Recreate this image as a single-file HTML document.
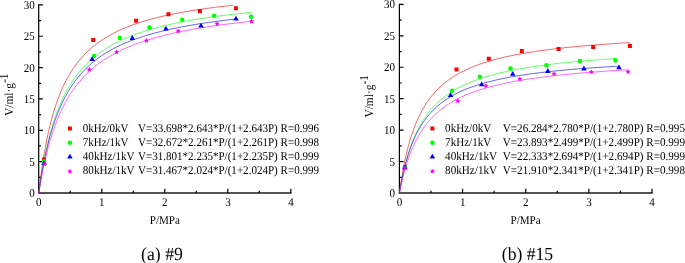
<!DOCTYPE html>
<html><head><meta charset="utf-8"><title>Adsorption isotherms</title>
<style>
html,body{margin:0;padding:0;background:#fff;}
svg{display:block;will-change:transform;}
.t,.t text{font-family:"Liberation Serif","Times New Roman",serif;font-size:11.9px;fill:#000;text-rendering:geometricPrecision;}
.c{font-family:"Liberation Serif","Times New Roman",serif;font-size:18.4px;fill:#000;text-rendering:geometricPrecision;}
</style></head><body>
<svg width="685" height="263" viewBox="0 0 685 263">
<rect width="685" height="263" fill="#fff"/>
<g transform="matrix(1 0.00001 0 1 0 0)">
<g stroke="#000" stroke-width="1.2" fill="none">
<path d="M38.70 4.30V193.60"/>
<path d="M38.10 193.00H291.42" stroke-width="1.3" stroke="#1c1c1c"/>
<path d="M38.70 177.32h2.3M38.70 161.65h4.2M38.70 145.97h2.3M38.70 130.30h4.2M38.70 114.62h2.3M38.70 98.95h4.2M38.70 83.28h2.3M38.70 67.60h4.2M38.70 51.93h2.3M38.70 36.25h4.2M38.70 20.58h2.3M38.70 4.90h4.2M70.22 193.00v-2.3M101.73 193.00v-4.2M133.25 193.00v-2.3M164.76 193.00v-4.2M196.27 193.00v-2.3M227.79 193.00v-4.2M259.31 193.00v-2.3M290.82 193.00v-4.2"/>
</g>
<g class="t">
<text x="29.32" y="197.00" textLength="5.52" lengthAdjust="spacingAndGlyphs">0</text>
<text x="29.32" y="165.65" textLength="5.52" lengthAdjust="spacingAndGlyphs">5</text>
<text x="23.80" y="134.30" textLength="11.04" lengthAdjust="spacingAndGlyphs">10</text>
<text x="23.80" y="102.95" textLength="11.04" lengthAdjust="spacingAndGlyphs">15</text>
<text x="23.80" y="71.60" textLength="11.04" lengthAdjust="spacingAndGlyphs">20</text>
<text x="23.80" y="40.25" textLength="11.04" lengthAdjust="spacingAndGlyphs">25</text>
<text x="23.80" y="8.50" textLength="11.04" lengthAdjust="spacingAndGlyphs">30</text>
<text x="36.04" y="205.90" textLength="5.52" lengthAdjust="spacingAndGlyphs">0</text>
<text x="99.07" y="205.90" textLength="5.52" lengthAdjust="spacingAndGlyphs">1</text>
<text x="162.10" y="205.90" textLength="5.52" lengthAdjust="spacingAndGlyphs">2</text>
<text x="225.13" y="205.90" textLength="5.52" lengthAdjust="spacingAndGlyphs">3</text>
<text x="288.16" y="205.90" textLength="5.52" lengthAdjust="spacingAndGlyphs">4</text>
<text x="149.75" y="224.1" textLength="30.1" lengthAdjust="spacingAndGlyphs">P/MPa</text>
<text transform="translate(12.90 116.00) rotate(-90)" style="font-size:12.2px" textLength="33.1" lengthAdjust="spacingAndGlyphs">V/ml·g</text>
<text transform="translate(7.90 83.00) rotate(-90)" style="font-size:12.2px" textLength="9.6" lengthAdjust="spacingAndGlyphs">-1</text>
</g>
<path d="M38.70 193.45 L39.51 186.53 L40.32 180.04 L41.12 173.95 L41.93 168.23 L42.74 162.84 L43.55 157.75 L44.36 152.94 L45.16 148.39 L45.97 144.07 L46.78 139.98 L47.59 136.08 L48.40 132.37 L49.20 128.84 L50.01 125.47 L50.82 122.25 L51.63 119.17 L52.44 116.23 L53.25 113.40 L54.05 110.70 L54.86 108.10 L55.67 105.61 L56.48 103.21 L57.29 100.91 L58.09 98.69 L58.90 96.55 L59.71 94.49 L60.52 92.50 L61.33 90.58 L62.13 88.73 L62.94 86.94 L63.75 85.21 L64.56 83.53 L65.37 81.91 L66.17 80.34 L66.98 78.82 L67.79 77.34 L68.60 75.91 L69.41 74.52 L70.22 73.18 L72.28 69.91 L74.34 66.86 L76.40 64.02 L78.47 61.37 L80.53 58.88 L82.59 56.54 L84.66 54.35 L86.72 52.27 L88.78 50.32 L90.85 48.47 L92.91 46.71 L94.97 45.05 L97.04 43.47 L99.10 41.97 L101.16 40.54 L103.23 39.18 L105.29 37.88 L107.35 36.64 L109.42 35.45 L111.48 34.31 L113.54 33.22 L115.61 32.17 L117.67 31.17 L119.73 30.21 L121.80 29.28 L123.86 28.39 L125.92 27.53 L127.99 26.70 L130.05 25.90 L132.11 25.13 L134.18 24.39 L136.24 23.67 L138.30 22.98 L140.36 22.31 L142.43 21.66 L144.49 21.03 L146.55 20.42 L148.62 19.83 L150.68 19.26 L152.74 18.70 L154.81 18.17 L156.87 17.64 L158.93 17.13 L161.00 16.64 L163.06 16.16 L165.12 15.69 L167.19 15.24 L169.25 14.80 L171.31 14.37 L173.38 13.95 L175.44 13.54 L177.50 13.14 L179.57 12.75 L181.63 12.38 L183.69 12.01 L185.76 11.65 L187.82 11.29 L189.88 10.95 L191.95 10.62 L194.01 10.29 L196.07 9.97 L198.14 9.66 L200.20 9.35 L202.26 9.05 L204.33 8.76 L206.39 8.47 L208.45 8.19 L210.51 7.92 L212.58 7.65 L214.64 7.38 L216.70 7.13 L218.77 6.87 L220.83 6.63 L222.89 6.38 L224.96 6.15 L227.02 5.91 L229.08 5.68 L231.15 5.46 L233.21 5.24" fill="none" stroke="#ff0000" stroke-width="0.62"/>
<path d="M38.70 193.45 L39.51 187.68 L40.32 182.22 L41.12 177.06 L41.93 172.17 L42.74 167.52 L43.55 163.10 L44.36 158.89 L45.16 154.89 L45.97 151.06 L46.78 147.41 L47.59 143.92 L48.40 140.58 L49.20 137.38 L50.01 134.31 L50.82 131.37 L51.63 128.54 L52.44 125.83 L53.25 123.21 L54.05 120.70 L54.86 118.27 L55.67 115.94 L56.48 113.68 L57.29 111.51 L58.09 109.40 L58.90 107.37 L59.71 105.41 L60.52 103.51 L61.33 101.67 L62.13 99.89 L62.94 98.17 L63.75 96.49 L64.56 94.87 L65.37 93.30 L66.17 91.77 L66.98 90.28 L67.79 88.84 L68.60 87.44 L69.41 86.08 L70.22 84.75 L72.50 81.18 L74.79 77.87 L77.08 74.78 L79.37 71.90 L81.66 69.21 L83.95 66.69 L86.24 64.31 L88.53 62.08 L90.82 59.98 L93.11 57.99 L95.40 56.11 L97.69 54.34 L99.98 52.65 L102.27 51.04 L104.56 49.52 L106.85 48.07 L109.14 46.68 L111.43 45.36 L113.72 44.09 L116.01 42.89 L118.30 41.73 L120.59 40.62 L122.88 39.56 L125.17 38.54 L127.46 37.56 L129.75 36.61 L132.04 35.71 L134.33 34.83 L136.62 33.99 L138.91 33.18 L141.20 32.40 L143.49 31.64 L145.78 30.91 L148.07 30.21 L150.36 29.52 L152.65 28.86 L154.94 28.22 L157.23 27.60 L159.52 27.00 L161.81 26.42 L164.10 25.85 L166.39 25.31 L168.68 24.77 L170.97 24.26 L173.26 23.75 L175.55 23.26 L177.84 22.79 L180.13 22.33 L182.42 21.88 L184.71 21.44 L187.00 21.01 L189.29 20.60 L191.58 20.19 L193.87 19.80 L196.16 19.41 L198.45 19.03 L200.73 18.67 L203.02 18.31 L205.31 17.96 L207.60 17.62 L209.89 17.28 L212.18 16.96 L214.47 16.64 L216.76 16.33 L219.05 16.02 L221.34 15.72 L223.63 15.43 L225.92 15.15 L228.21 14.87 L230.50 14.59 L232.79 14.32 L235.08 14.06 L237.37 13.80 L239.66 13.55 L241.95 13.30 L244.24 13.06 L246.53 12.82 L248.82 12.59 L251.11 12.36" fill="none" stroke="#00ff00" stroke-width="0.62"/>
<path d="M38.70 193.45 L39.51 187.90 L40.32 182.64 L41.12 177.67 L41.93 172.95 L42.74 168.46 L43.55 164.20 L44.36 160.14 L45.16 156.27 L45.97 152.57 L46.78 149.04 L47.59 145.66 L48.40 142.43 L49.20 139.33 L50.01 136.36 L50.82 133.51 L51.63 130.77 L52.44 128.14 L53.25 125.60 L54.05 123.16 L54.86 120.81 L55.67 118.54 L56.48 116.36 L57.29 114.24 L58.09 112.20 L58.90 110.23 L59.71 108.32 L60.52 106.48 L61.33 104.69 L62.13 102.96 L62.94 101.28 L63.75 99.65 L64.56 98.07 L65.37 96.54 L66.17 95.06 L66.98 93.61 L67.79 92.21 L68.60 90.84 L69.41 89.51 L70.22 88.22 L72.31 85.03 L74.41 82.04 L76.51 79.24 L78.61 76.62 L80.71 74.15 L82.81 71.83 L84.90 69.63 L87.00 67.56 L89.10 65.60 L91.20 63.74 L93.30 61.97 L95.40 60.29 L97.49 58.70 L99.59 57.17 L101.69 55.72 L103.79 54.33 L105.89 53.01 L107.99 51.74 L110.08 50.52 L112.18 49.36 L114.28 48.24 L116.38 47.17 L118.48 46.13 L120.58 45.14 L122.67 44.19 L124.77 43.27 L126.87 42.38 L128.97 41.52 L131.07 40.70 L133.17 39.90 L135.26 39.13 L137.36 38.38 L139.46 37.66 L141.56 36.96 L143.66 36.29 L145.76 35.63 L147.85 35.00 L149.95 34.38 L152.05 33.78 L154.15 33.20 L156.25 32.64 L158.35 32.09 L160.44 31.56 L162.54 31.04 L164.64 30.54 L166.74 30.05 L168.84 29.57 L170.94 29.11 L173.03 28.65 L175.13 28.21 L177.23 27.78 L179.33 27.36 L181.43 26.96 L183.53 26.56 L185.62 26.17 L187.72 25.79 L189.82 25.42 L191.92 25.05 L194.02 24.70 L196.12 24.35 L198.21 24.01 L200.31 23.68 L202.41 23.36 L204.51 23.04 L206.61 22.73 L208.71 22.43 L210.80 22.13 L212.90 21.84 L215.00 21.55 L217.10 21.28 L219.20 21.00 L221.30 20.73 L223.39 20.47 L225.49 20.21 L227.59 19.96 L229.69 19.71 L231.79 19.47 L233.89 19.23 L235.98 19.00" fill="none" stroke="#0000ff" stroke-width="0.62"/>
<path d="M38.70 193.45 L39.51 188.46 L40.32 183.72 L41.12 179.20 L41.93 174.90 L42.74 170.79 L43.55 166.87 L44.36 163.12 L45.16 159.53 L45.97 156.10 L46.78 152.80 L47.59 149.64 L48.40 146.60 L49.20 143.68 L50.01 140.87 L50.82 138.17 L51.63 135.57 L52.44 133.06 L53.25 130.64 L54.05 128.30 L54.86 126.04 L55.67 123.86 L56.48 121.75 L57.29 119.71 L58.09 117.73 L58.90 115.82 L59.71 113.97 L60.52 112.17 L61.33 110.42 L62.13 108.73 L62.94 107.09 L63.75 105.49 L64.56 103.94 L65.37 102.44 L66.17 100.97 L66.98 99.55 L67.79 98.16 L68.60 96.81 L69.41 95.49 L70.22 94.21 L72.52 90.73 L74.83 87.49 L77.13 84.46 L79.44 81.63 L81.74 78.97 L84.05 76.48 L86.36 74.13 L88.66 71.91 L90.97 69.82 L93.27 67.83 L95.58 65.96 L97.88 64.17 L100.19 62.48 L102.50 60.87 L104.80 59.34 L107.11 57.87 L109.41 56.47 L111.72 55.14 L114.02 53.86 L116.33 52.64 L118.64 51.47 L120.94 50.34 L123.25 49.26 L125.55 48.22 L127.86 47.22 L130.17 46.26 L132.47 45.34 L134.78 44.45 L137.08 43.59 L139.39 42.76 L141.69 41.96 L144.00 41.18 L146.31 40.43 L148.61 39.71 L150.92 39.01 L153.22 38.33 L155.53 37.67 L157.83 37.04 L160.14 36.42 L162.45 35.82 L164.75 35.24 L167.06 34.67 L169.36 34.12 L171.67 33.59 L173.98 33.07 L176.28 32.57 L178.59 32.08 L180.89 31.60 L183.20 31.13 L185.50 30.68 L187.81 30.24 L190.12 29.81 L192.42 29.39 L194.73 28.98 L197.03 28.58 L199.34 28.19 L201.64 27.81 L203.95 27.44 L206.26 27.07 L208.56 26.72 L210.87 26.37 L213.17 26.03 L215.48 25.70 L217.78 25.38 L220.09 25.06 L222.40 24.75 L224.70 24.45 L227.01 24.15 L229.31 23.86 L231.62 23.57 L233.93 23.29 L236.23 23.02 L238.54 22.75 L240.84 22.49 L243.15 22.23 L245.45 21.98 L247.76 21.73 L250.07 21.49 L252.37 21.25" fill="none" stroke="#ff00ff" stroke-width="0.62"/>
<rect x="41.90" y="157.50" width="4.00" height="4.00" fill="#ff0000"/>
<rect x="91.20" y="37.90" width="4.00" height="4.00" fill="#ff0000"/>
<rect x="134.10" y="18.70" width="4.00" height="4.00" fill="#ff0000"/>
<rect x="166.40" y="12.20" width="4.00" height="4.00" fill="#ff0000"/>
<rect x="197.90" y="8.90" width="4.00" height="4.00" fill="#ff0000"/>
<rect x="233.90" y="6.20" width="4.00" height="4.00" fill="#ff0000"/>
<circle cx="44.00" cy="161.60" r="2.30" fill="#00ff00"/>
<circle cx="94.00" cy="56.00" r="2.30" fill="#00ff00"/>
<circle cx="119.80" cy="37.90" r="2.30" fill="#00ff00"/>
<circle cx="149.50" cy="27.60" r="2.30" fill="#00ff00"/>
<circle cx="182.20" cy="19.80" r="2.30" fill="#00ff00"/>
<circle cx="214.20" cy="15.70" r="2.30" fill="#00ff00"/>
<circle cx="251.20" cy="16.70" r="2.30" fill="#00ff00"/>
<path d="M44.00 160.20L46.80 165.00H41.20Z" fill="#0000ff"/>
<path d="M92.10 56.20L94.90 61.00H89.30Z" fill="#0000ff"/>
<path d="M132.30 35.10L135.10 39.90H129.50Z" fill="#0000ff"/>
<path d="M165.90 25.80L168.70 30.60H163.10Z" fill="#0000ff"/>
<path d="M201.00 22.70L203.80 27.50H198.20Z" fill="#0000ff"/>
<path d="M236.00 15.80L238.80 20.60H233.20Z" fill="#0000ff"/>
<path d="M44.50 161.35 L45.29 162.91 L47.02 163.18 L45.78 164.42 L46.06 166.14 L44.50 165.35 L42.94 166.14 L43.22 164.42 L41.98 163.18 L43.71 162.91Z" fill="#ff00ff"/>
<path d="M89.30 66.85 L90.09 68.41 L91.82 68.68 L90.58 69.92 L90.86 71.64 L89.30 70.85 L87.74 71.64 L88.02 69.92 L86.78 68.68 L88.51 68.41Z" fill="#ff00ff"/>
<path d="M116.60 49.45 L117.39 51.01 L119.12 51.28 L117.88 52.52 L118.16 54.24 L116.60 53.45 L115.04 54.24 L115.32 52.52 L114.08 51.28 L115.81 51.01Z" fill="#ff00ff"/>
<path d="M146.40 38.05 L147.19 39.61 L148.92 39.88 L147.68 41.12 L147.96 42.84 L146.40 42.05 L144.84 42.84 L145.12 41.12 L143.88 39.88 L145.61 39.61Z" fill="#ff00ff"/>
<path d="M178.20 28.45 L178.99 30.01 L180.72 30.28 L179.48 31.52 L179.76 33.24 L178.20 32.45 L176.64 33.24 L176.92 31.52 L175.68 30.28 L177.41 30.01Z" fill="#ff00ff"/>
<path d="M217.10 21.25 L217.89 22.81 L219.62 23.08 L218.38 24.32 L218.66 26.04 L217.10 25.25 L215.54 26.04 L215.82 24.32 L214.58 23.08 L216.31 22.81Z" fill="#ff00ff"/>
<path d="M251.60 18.65 L252.39 20.21 L254.12 20.48 L252.88 21.72 L253.16 23.44 L251.60 22.65 L250.04 23.44 L250.32 21.72 L249.08 20.48 L250.81 20.21Z" fill="#ff00ff"/>
<rect x="67.90" y="126.60" width="4.00" height="4.00" fill="#ff0000"/>
<text class="t" x="82.80" y="131.90" textLength="45.7" lengthAdjust="spacingAndGlyphs">0kHz/0kV</text>
<text class="t" x="138.00" y="131.90" textLength="181.0" lengthAdjust="spacingAndGlyphs">V=33.698*2.643*P/(1+2.643P) R=0.996</text>
<circle cx="69.90" cy="142.70" r="2.30" fill="#00ff00"/>
<text class="t" x="82.80" y="145.80" textLength="45.7" lengthAdjust="spacingAndGlyphs">7kHz/1kV</text>
<text class="t" x="138.00" y="145.80" textLength="181.0" lengthAdjust="spacingAndGlyphs">V=32.672*2.261*P/(1+2.261P) R=0.998</text>
<path d="M69.90 153.80L72.70 158.60H67.10Z" fill="#0000ff"/>
<text class="t" x="82.80" y="159.50" textLength="51.8" lengthAdjust="spacingAndGlyphs">40kHz/1kV</text>
<text class="t" x="138.00" y="159.50" textLength="181.0" lengthAdjust="spacingAndGlyphs">V=31.801*2.235*P/(1+2.235P) R=0.999</text>
<path d="M69.90 168.65 L70.69 170.21 L72.42 170.48 L71.18 171.72 L71.46 173.44 L69.90 172.65 L68.34 173.44 L68.62 171.72 L67.38 170.48 L69.11 170.21Z" fill="#ff00ff"/>
<text class="t" x="82.80" y="174.10" textLength="51.8" lengthAdjust="spacingAndGlyphs">80kHz/1kV</text>
<text class="t" x="138.00" y="174.10" textLength="181.0" lengthAdjust="spacingAndGlyphs">V=31.467*2.024*P/(1+2.024P) R=0.999</text>
<text class="c" x="141.10" y="259.5" textLength="41.8" lengthAdjust="spacingAndGlyphs">(a) #9</text>
<g stroke="#000" stroke-width="1.2" fill="none">
<path d="M399.40 3.80V193.60"/>
<path d="M398.80 193.00H652.60" stroke-width="1.3" stroke="#1c1c1c"/>
<path d="M399.40 177.28h2.3M399.40 161.57h4.2M399.40 145.85h2.3M399.40 130.13h4.2M399.40 114.42h2.3M399.40 98.70h4.2M399.40 82.98h2.3M399.40 67.27h4.2M399.40 51.55h2.3M399.40 35.83h4.2M399.40 20.12h2.3M399.40 4.40h4.2M430.97 193.00v-2.3M462.55 193.00v-4.2M494.12 193.00v-2.3M525.70 193.00v-4.2M557.27 193.00v-2.3M588.85 193.00v-4.2M620.42 193.00v-2.3M652.00 193.00v-4.2"/>
</g>
<g class="t">
<text x="389.58" y="197.00" textLength="5.52" lengthAdjust="spacingAndGlyphs">0</text>
<text x="389.58" y="165.57" textLength="5.52" lengthAdjust="spacingAndGlyphs">5</text>
<text x="384.06" y="134.13" textLength="11.04" lengthAdjust="spacingAndGlyphs">10</text>
<text x="384.06" y="102.70" textLength="11.04" lengthAdjust="spacingAndGlyphs">15</text>
<text x="384.06" y="71.27" textLength="11.04" lengthAdjust="spacingAndGlyphs">20</text>
<text x="384.06" y="39.83" textLength="11.04" lengthAdjust="spacingAndGlyphs">25</text>
<text x="384.06" y="8.00" textLength="11.04" lengthAdjust="spacingAndGlyphs">30</text>
<text x="396.74" y="205.90" textLength="5.52" lengthAdjust="spacingAndGlyphs">0</text>
<text x="459.89" y="205.90" textLength="5.52" lengthAdjust="spacingAndGlyphs">1</text>
<text x="523.04" y="205.90" textLength="5.52" lengthAdjust="spacingAndGlyphs">2</text>
<text x="586.19" y="205.90" textLength="5.52" lengthAdjust="spacingAndGlyphs">3</text>
<text x="649.34" y="205.90" textLength="5.52" lengthAdjust="spacingAndGlyphs">4</text>
<text x="510.55" y="224.1" textLength="30.1" lengthAdjust="spacingAndGlyphs">P/MPa</text>
<text transform="translate(373.10 117.60) rotate(-90)" style="font-size:12.2px" textLength="33.1" lengthAdjust="spacingAndGlyphs">V/ml·g</text>
<text transform="translate(368.10 84.60) rotate(-90)" style="font-size:12.2px" textLength="9.6" lengthAdjust="spacingAndGlyphs">-1</text>
</g>
<path d="M399.40 193.00 L400.21 187.31 L401.02 182.01 L401.83 177.04 L402.64 172.38 L403.45 168.01 L404.26 163.89 L405.07 160.01 L405.88 156.34 L406.69 152.87 L407.50 149.58 L408.31 146.46 L409.12 143.50 L409.92 140.68 L410.73 138.00 L411.54 135.44 L412.35 132.99 L413.16 130.66 L413.97 128.42 L414.78 126.28 L415.59 124.23 L416.40 122.27 L417.21 120.38 L418.02 118.56 L418.83 116.82 L419.64 115.14 L420.45 113.53 L421.26 111.97 L422.07 110.47 L422.88 109.02 L423.69 107.62 L424.50 106.26 L425.31 104.96 L426.12 103.69 L426.93 102.47 L427.74 101.28 L428.55 100.14 L429.36 99.02 L430.17 97.95 L430.97 96.90 L433.49 93.83 L436.01 91.03 L438.53 88.45 L441.05 86.08 L443.57 83.88 L446.08 81.85 L448.60 79.95 L451.12 78.19 L453.64 76.54 L456.16 74.99 L458.67 73.54 L461.19 72.18 L463.71 70.89 L466.23 69.68 L468.75 68.53 L471.26 67.45 L473.78 66.42 L476.30 65.44 L478.82 64.51 L481.34 63.63 L483.85 62.79 L486.37 61.98 L488.89 61.21 L491.41 60.48 L493.93 59.78 L496.44 59.10 L498.96 58.46 L501.48 57.84 L504.00 57.24 L506.52 56.67 L509.03 56.12 L511.55 55.59 L514.07 55.08 L516.59 54.59 L519.11 54.12 L521.62 53.66 L524.14 53.22 L526.66 52.79 L529.18 52.38 L531.70 51.98 L534.21 51.59 L536.73 51.21 L539.25 50.85 L541.77 50.50 L544.29 50.16 L546.80 49.83 L549.32 49.50 L551.84 49.19 L554.36 48.89 L556.88 48.59 L559.39 48.31 L561.91 48.03 L564.43 47.75 L566.95 47.49 L569.47 47.23 L571.98 46.98 L574.50 46.74 L577.02 46.50 L579.54 46.26 L582.06 46.04 L584.57 45.82 L587.09 45.60 L589.61 45.39 L592.13 45.18 L594.65 44.98 L597.16 44.79 L599.68 44.59 L602.20 44.41 L604.72 44.22 L607.24 44.04 L609.75 43.87 L612.27 43.69 L614.79 43.53 L617.31 43.36 L619.83 43.20 L622.34 43.04 L624.86 42.89 L627.38 42.73 L629.90 42.58" fill="none" stroke="#ff0000" stroke-width="0.62"/>
<path d="M399.40 193.00 L400.21 188.34 L401.02 183.95 L401.83 179.83 L402.64 175.94 L403.45 172.26 L404.26 168.78 L405.07 165.48 L405.88 162.36 L406.69 159.38 L407.50 156.55 L408.31 153.86 L409.12 151.29 L409.92 148.83 L410.73 146.49 L411.54 144.24 L412.35 142.10 L413.16 140.04 L413.97 138.06 L414.78 136.16 L415.59 134.34 L416.40 132.59 L417.21 130.90 L418.02 129.27 L418.83 127.71 L419.64 126.20 L420.45 124.74 L421.26 123.33 L422.07 121.97 L422.88 120.66 L423.69 119.38 L424.50 118.15 L425.31 116.96 L426.12 115.81 L426.93 114.69 L427.74 113.60 L428.55 112.55 L429.36 111.52 L430.17 110.53 L430.97 109.57 L433.31 106.93 L435.64 104.50 L437.98 102.24 L440.31 100.15 L442.65 98.19 L444.98 96.37 L447.31 94.66 L449.65 93.06 L451.98 91.55 L454.32 90.13 L456.65 88.79 L458.98 87.52 L461.32 86.33 L463.65 85.19 L465.99 84.11 L468.32 83.09 L470.66 82.12 L472.99 81.19 L475.32 80.30 L477.66 79.46 L479.99 78.65 L482.33 77.87 L484.66 77.13 L486.99 76.42 L489.33 75.74 L491.66 75.09 L494.00 74.46 L496.33 73.85 L498.67 73.27 L501.00 72.71 L503.33 72.17 L505.67 71.65 L508.00 71.15 L510.34 70.66 L512.67 70.19 L515.00 69.74 L517.34 69.30 L519.67 68.87 L522.01 68.46 L524.34 68.06 L526.68 67.68 L529.01 67.30 L531.34 66.94 L533.68 66.58 L536.01 66.24 L538.35 65.91 L540.68 65.58 L543.01 65.27 L545.35 64.96 L547.68 64.66 L550.02 64.37 L552.35 64.09 L554.69 63.82 L557.02 63.55 L559.35 63.29 L561.69 63.03 L564.02 62.78 L566.36 62.54 L568.69 62.30 L571.02 62.07 L573.36 61.84 L575.69 61.62 L578.03 61.41 L580.36 61.20 L582.69 60.99 L585.03 60.79 L587.36 60.59 L589.70 60.40 L592.03 60.21 L594.37 60.03 L596.70 59.85 L599.03 59.67 L601.37 59.50 L603.70 59.33 L606.04 59.16 L608.37 59.00 L610.70 58.84 L613.04 58.68 L615.37 58.53" fill="none" stroke="#00ff00" stroke-width="0.62"/>
<path d="M399.40 193.00 L400.21 188.31 L401.02 183.93 L401.83 179.82 L402.64 175.96 L403.45 172.32 L404.26 168.90 L405.07 165.66 L405.88 162.60 L406.69 159.71 L407.50 156.96 L408.31 154.34 L409.12 151.86 L409.92 149.49 L410.73 147.24 L411.54 145.09 L412.35 143.03 L413.16 141.06 L413.97 139.18 L414.78 137.37 L415.59 135.64 L416.40 133.98 L417.21 132.38 L418.02 130.84 L418.83 129.37 L419.64 127.94 L420.45 126.57 L421.26 125.25 L422.07 123.97 L422.88 122.74 L423.69 121.55 L424.50 120.40 L425.31 119.29 L426.12 118.21 L426.93 117.17 L427.74 116.16 L428.55 115.18 L429.36 114.24 L430.17 113.31 L430.97 112.42 L433.36 109.94 L435.74 107.65 L438.12 105.54 L440.50 103.59 L442.89 101.77 L445.27 100.08 L447.65 98.51 L450.03 97.03 L452.41 95.65 L454.80 94.35 L457.18 93.12 L459.56 91.97 L461.94 90.88 L464.32 89.84 L466.71 88.87 L469.09 87.94 L471.47 87.06 L473.85 86.22 L476.24 85.42 L478.62 84.66 L481.00 83.93 L483.38 83.24 L485.76 82.57 L488.15 81.94 L490.53 81.33 L492.91 80.74 L495.29 80.18 L497.67 79.64 L500.06 79.12 L502.44 78.62 L504.82 78.14 L507.20 77.68 L509.58 77.23 L511.97 76.80 L514.35 76.38 L516.73 75.98 L519.11 75.59 L521.50 75.21 L523.88 74.85 L526.26 74.50 L528.64 74.16 L531.02 73.82 L533.41 73.50 L535.79 73.19 L538.17 72.89 L540.55 72.60 L542.93 72.31 L545.32 72.03 L547.70 71.76 L550.08 71.50 L552.46 71.25 L554.84 71.00 L557.23 70.76 L559.61 70.52 L561.99 70.29 L564.37 70.07 L566.76 69.85 L569.14 69.64 L571.52 69.43 L573.90 69.23 L576.28 69.03 L578.67 68.84 L581.05 68.65 L583.43 68.46 L585.81 68.28 L588.19 68.11 L590.58 67.93 L592.96 67.77 L595.34 67.60 L597.72 67.44 L600.11 67.28 L602.49 67.13 L604.87 66.98 L607.25 66.83 L609.63 66.68 L612.02 66.54 L614.40 66.40 L616.78 66.27 L619.16 66.13" fill="none" stroke="#0000ff" stroke-width="0.62"/>
<path d="M399.40 193.00 L400.21 188.99 L401.02 185.20 L401.83 181.62 L402.64 178.24 L403.45 175.03 L404.26 171.98 L405.07 169.09 L405.88 166.33 L406.69 163.71 L407.50 161.20 L408.31 158.81 L409.12 156.53 L409.92 154.34 L410.73 152.25 L411.54 150.24 L412.35 148.31 L413.16 146.47 L413.97 144.69 L414.78 142.98 L415.59 141.33 L416.40 139.75 L417.21 138.22 L418.02 136.75 L418.83 135.33 L419.64 133.95 L420.45 132.63 L421.26 131.34 L422.07 130.10 L422.88 128.90 L423.69 127.74 L424.50 126.61 L425.31 125.52 L426.12 124.46 L426.93 123.43 L427.74 122.44 L428.55 121.47 L429.36 120.52 L430.17 119.61 L430.97 118.72 L433.47 116.13 L435.96 113.74 L438.46 111.53 L440.95 109.48 L443.45 107.58 L445.94 105.80 L448.43 104.14 L450.93 102.59 L453.42 101.13 L455.92 99.76 L458.41 98.47 L460.90 97.25 L463.40 96.10 L465.89 95.01 L468.39 93.98 L470.88 93.00 L473.37 92.07 L475.87 91.18 L478.36 90.33 L480.86 89.53 L483.35 88.76 L485.84 88.02 L488.34 87.31 L490.83 86.64 L493.33 85.99 L495.82 85.37 L498.31 84.77 L500.81 84.20 L503.30 83.65 L505.80 83.12 L508.29 82.61 L510.78 82.11 L513.28 81.64 L515.77 81.18 L518.27 80.74 L520.76 80.31 L523.25 79.89 L525.75 79.49 L528.24 79.11 L530.74 78.73 L533.23 78.37 L535.72 78.01 L538.22 77.67 L540.71 77.34 L543.21 77.02 L545.70 76.70 L548.19 76.40 L550.69 76.10 L553.18 75.82 L555.68 75.54 L558.17 75.26 L560.66 75.00 L563.16 74.74 L565.65 74.49 L568.15 74.24 L570.64 74.00 L573.13 73.77 L575.63 73.54 L578.12 73.32 L580.62 73.11 L583.11 72.90 L585.60 72.69 L588.10 72.49 L590.59 72.29 L593.09 72.10 L595.58 71.91 L598.07 71.73 L600.57 71.55 L603.06 71.37 L605.56 71.20 L608.05 71.03 L610.54 70.86 L613.04 70.70 L615.53 70.54 L618.03 70.39 L620.52 70.24 L623.01 70.09 L625.51 69.94 L628.00 69.80" fill="none" stroke="#ff00ff" stroke-width="0.62"/>
<rect x="402.90" y="165.00" width="4.00" height="4.00" fill="#ff0000"/>
<rect x="454.50" y="67.40" width="4.00" height="4.00" fill="#ff0000"/>
<rect x="486.80" y="56.70" width="4.00" height="4.00" fill="#ff0000"/>
<rect x="519.80" y="49.00" width="4.00" height="4.00" fill="#ff0000"/>
<rect x="556.60" y="47.00" width="4.00" height="4.00" fill="#ff0000"/>
<rect x="591.20" y="45.10" width="4.00" height="4.00" fill="#ff0000"/>
<rect x="627.90" y="44.00" width="4.00" height="4.00" fill="#ff0000"/>
<circle cx="404.90" cy="167.20" r="2.30" fill="#00ff00"/>
<circle cx="452.10" cy="90.70" r="2.30" fill="#00ff00"/>
<circle cx="479.80" cy="76.70" r="2.30" fill="#00ff00"/>
<circle cx="510.50" cy="68.50" r="2.30" fill="#00ff00"/>
<circle cx="546.40" cy="65.40" r="2.30" fill="#00ff00"/>
<circle cx="579.90" cy="61.00" r="2.30" fill="#00ff00"/>
<circle cx="615.40" cy="60.40" r="2.30" fill="#00ff00"/>
<path d="M404.90 164.50L407.70 169.30H402.10Z" fill="#0000ff"/>
<path d="M450.60 92.20L453.40 97.00H447.80Z" fill="#0000ff"/>
<path d="M481.70 81.50L484.50 86.30H478.90Z" fill="#0000ff"/>
<path d="M512.70 71.00L515.50 75.80H509.90Z" fill="#0000ff"/>
<path d="M547.80 68.10L550.60 72.90H545.00Z" fill="#0000ff"/>
<path d="M583.90 65.60L586.70 70.40H581.10Z" fill="#0000ff"/>
<path d="M619.00 64.50L621.80 69.30H616.20Z" fill="#0000ff"/>
<path d="M405.00 165.35 L405.79 166.91 L407.52 167.18 L406.28 168.42 L406.56 170.14 L405.00 169.35 L403.44 170.14 L403.72 168.42 L402.48 167.18 L404.21 166.91Z" fill="#ff00ff"/>
<path d="M457.80 98.35 L458.59 99.91 L460.32 100.18 L459.08 101.42 L459.36 103.14 L457.80 102.35 L456.24 103.14 L456.52 101.42 L455.28 100.18 L457.01 99.91Z" fill="#ff00ff"/>
<path d="M485.90 83.15 L486.69 84.71 L488.42 84.98 L487.18 86.22 L487.46 87.94 L485.90 87.15 L484.34 87.94 L484.62 86.22 L483.38 84.98 L485.11 84.71Z" fill="#ff00ff"/>
<path d="M519.80 76.35 L520.59 77.91 L522.32 78.18 L521.08 79.42 L521.36 81.14 L519.80 80.35 L518.24 81.14 L518.52 79.42 L517.28 78.18 L519.01 77.91Z" fill="#ff00ff"/>
<path d="M554.00 71.25 L554.79 72.81 L556.52 73.08 L555.28 74.32 L555.56 76.04 L554.00 75.25 L552.44 76.04 L552.72 74.32 L551.48 73.08 L553.21 72.81Z" fill="#ff00ff"/>
<path d="M591.30 69.35 L592.09 70.91 L593.82 71.18 L592.58 72.42 L592.86 74.14 L591.30 73.35 L589.74 74.14 L590.02 72.42 L588.78 71.18 L590.51 70.91Z" fill="#ff00ff"/>
<path d="M628.00 69.15 L628.79 70.71 L630.52 70.98 L629.28 72.22 L629.56 73.94 L628.00 73.15 L626.44 73.94 L626.72 72.22 L625.48 70.98 L627.21 70.71Z" fill="#ff00ff"/>
<rect x="430.40" y="126.60" width="4.00" height="4.00" fill="#ff0000"/>
<text class="t" x="445.10" y="131.90" textLength="46.2" lengthAdjust="spacingAndGlyphs">0kHz/0kV</text>
<text class="t" x="502.80" y="131.90" textLength="182.2" lengthAdjust="spacingAndGlyphs">V=26.284*2.780*P/(1+2.780P) R=0.995</text>
<circle cx="432.40" cy="142.70" r="2.30" fill="#00ff00"/>
<text class="t" x="445.10" y="145.80" textLength="46.2" lengthAdjust="spacingAndGlyphs">7kHz/1kV</text>
<text class="t" x="502.80" y="145.80" textLength="182.2" lengthAdjust="spacingAndGlyphs">V=23.893*2.499*P/(1+2.499P) R=0.999</text>
<path d="M432.40 153.80L435.20 158.60H429.60Z" fill="#0000ff"/>
<text class="t" x="445.10" y="159.50" textLength="52.0" lengthAdjust="spacingAndGlyphs">40kHz/1kV</text>
<text class="t" x="502.80" y="159.50" textLength="182.2" lengthAdjust="spacingAndGlyphs">V=22.333*2.694*P/(1+2.694P) R=0.999</text>
<path d="M432.40 168.65 L433.19 170.21 L434.92 170.48 L433.68 171.72 L433.96 173.44 L432.40 172.65 L430.84 173.44 L431.12 171.72 L429.88 170.48 L431.61 170.21Z" fill="#ff00ff"/>
<text class="t" x="445.10" y="174.10" textLength="52.0" lengthAdjust="spacingAndGlyphs">80kHz/1kV</text>
<text class="t" x="502.80" y="174.10" textLength="182.2" lengthAdjust="spacingAndGlyphs">V=21.910*2.341*P/(1+2.341P) R=0.998</text>
<text class="c" x="501.80" y="259.5" textLength="51.4" lengthAdjust="spacingAndGlyphs">(b) #15</text>
</g>
</svg>
</body></html>
